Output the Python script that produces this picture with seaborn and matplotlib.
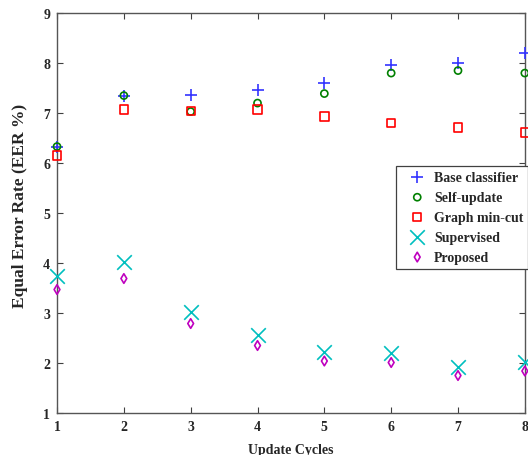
import numpy as np
import pandas as pd
import matplotlib
matplotlib.use("Agg")
import matplotlib.pyplot as plt
import seaborn as sns


cycles = [1, 2, 3, 4, 5, 6, 7, 8]
base_classifier = [6.33, 7.35, 7.36, 7.47, 7.61, 7.97, 8.00, 8.21]
self_update = [6.33, 7.35, 7.03, 7.20, 7.39, 7.80, 7.85, 7.80]
graph_min_cut = [6.15, 7.07, 7.04, 7.07, 6.93, 6.80, 6.71, 6.61]
supervised = [3.75, 4.03, 3.03, 2.57, 2.23, 2.20, 1.93, 2.02]
proposed = [3.47, 3.69, 2.79, 2.35, 2.04, 2.01, 1.75, 1.84]

x_ticks = [1, 2, 3, 4, 5, 6, 7, 8]
y_ticks = [1, 2, 3, 4, 5, 6, 7, 8, 9]

SERIES = [
    # label, values, color, marker, size, filled
    ("Base classifier", base_classifier, "#3333ff", "+", 70, False),
    ("Self-update", self_update, "#008000", "o", 26, True),
    ("Graph min-cut", graph_min_cut, "#ff0000", "s", 36, True),
    ("Supervised", supervised, "#00bfbf", "x", 110, False),
    ("Proposed", proposed, "#bf00bf", "d", 24, True),
]


def main() -> None:
    sns.set_style("ticks")
    plt.rcParams["font.family"] = ["Liberation Serif", "DejaVu Serif"]
    plt.rcParams["font.weight"] = "bold"
    plt.rcParams["font.size"] = 10

    fig = plt.figure(figsize=(5.28, 4.56), dpi=100)
    ax = fig.add_axes([0.108, 0.0921, 0.886, 0.877])

    for label, values, color, marker, size, filled in SERIES:
        df = pd.DataFrame({"cycle": cycles, "eer": values})
        kws = dict(color=color, marker=marker, s=size, linewidth=1.2, clip_on=False, zorder=3)
        if filled:
            kws["facecolor"] = "none"
            kws["edgecolor"] = color
        sns.scatterplot(data=df, x="cycle", y="eer", label=label, ax=ax, **kws)

    ax.set_xlim(1, 8)
    ax.set_ylim(1, 9)
    ax.set_xticks(x_ticks)
    ax.set_yticks(y_ticks)
    ax.tick_params(direction="in", length=4, width=0.8, color="#404040",
                   top=True, right=True, labelsize=10, pad=5)
    for lab in ax.get_xticklabels() + ax.get_yticklabels():
        lab.set_fontweight("bold")
    for spine in ax.spines.values():
        spine.set_color("#555555")
        spine.set_linewidth(1.0)
        spine.set_visible(True)

    ax.set_xlabel("Update Cycles", fontsize=10, fontweight="bold", labelpad=7)
    ax.set_ylabel("Equal Error Rate (EER %)", fontsize=12.5, fontweight="bold")
    # the reference label sits a little above the axes centre
    ax.yaxis.set_label_coords(-0.062, 0.52)

    leg = ax.legend(loc="upper left", bbox_to_anchor=(0.724, 0.6175), borderaxespad=0,
                    fancybox=False, edgecolor="#404040", framealpha=1, borderpad=0.35,
                    labelspacing=0.5, handletextpad=0.0, handlelength=2.4,
                    prop={"weight": "bold", "size": 10})
    leg.get_frame().set_linewidth(0.9)

    fig.savefig("out.png", dpi=100)
    plt.close(fig)


if __name__ == "__main__":
    main()
